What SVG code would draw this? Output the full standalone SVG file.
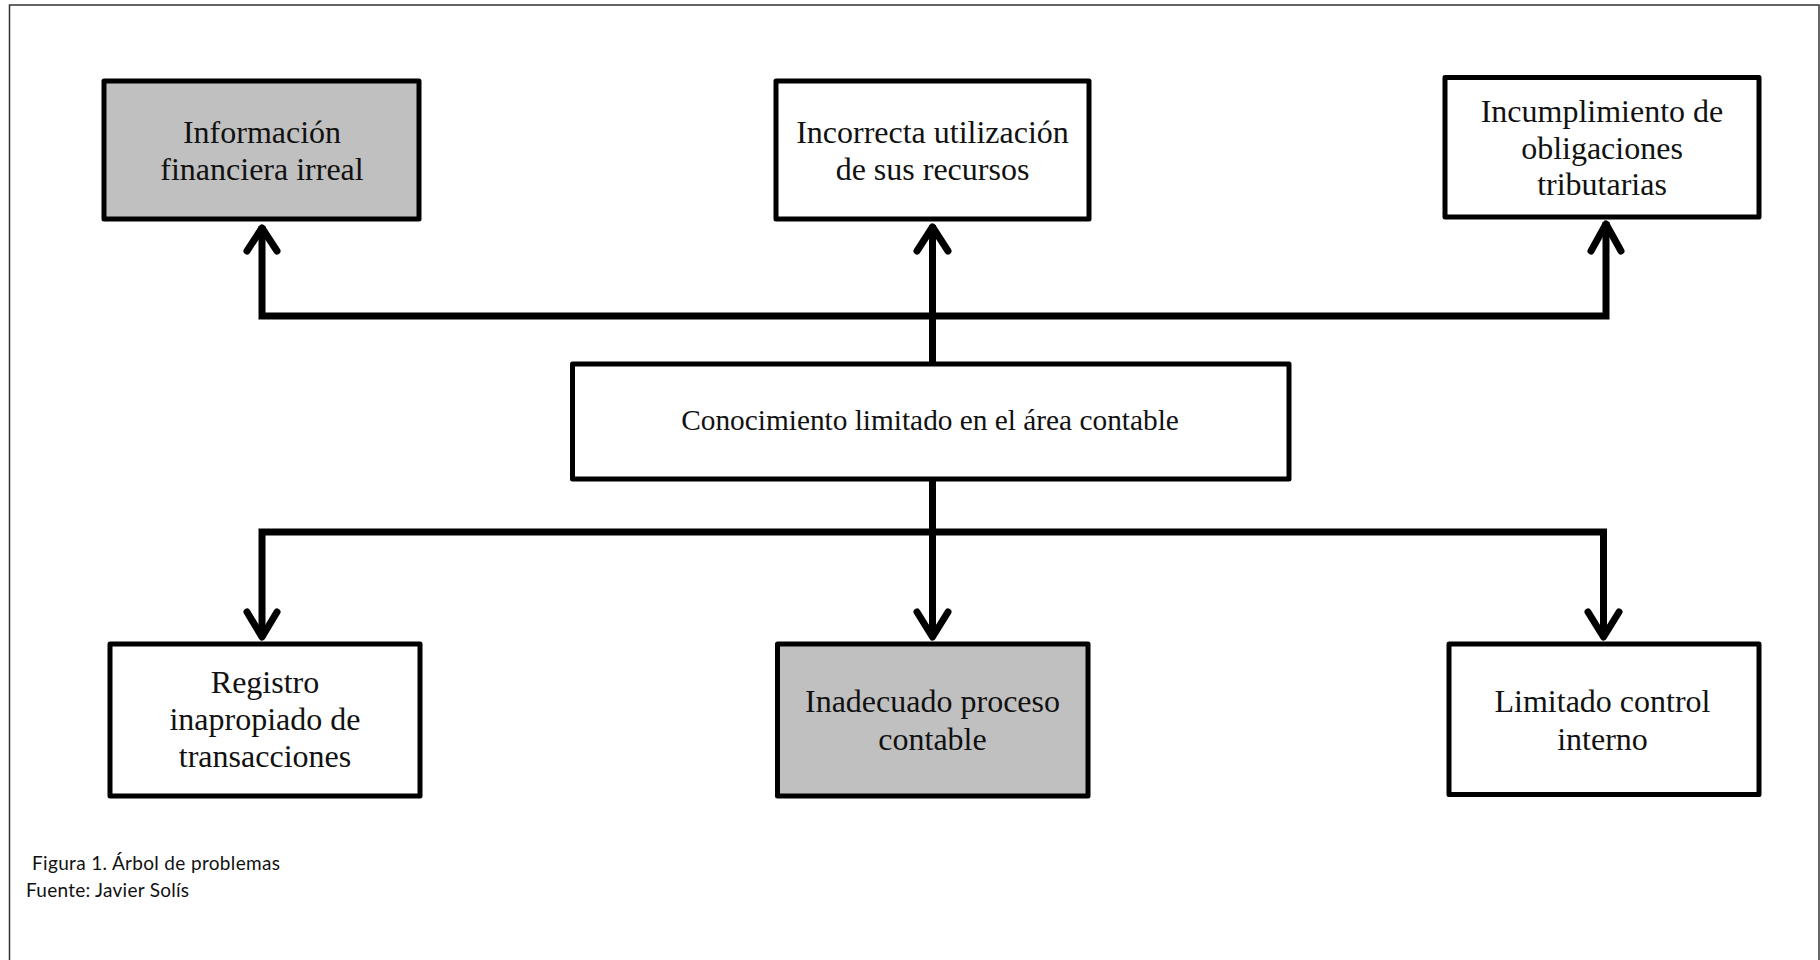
<svg xmlns="http://www.w3.org/2000/svg" width="1820" height="960" viewBox="0 0 1820 960">
<style>
.box{stroke:#000;stroke-width:5;stroke-linejoin:round}
.w{fill:#fff}
.g{fill:#c0c0c0}
.t{font-family:"Liberation Serif","Times New Roman",serif;font-size:32px;fill:#111;text-anchor:middle}
.tc{font-family:"Liberation Serif","Times New Roman",serif;font-size:29.33px;fill:#111;text-anchor:middle}
.line{fill:none;stroke:#000;stroke-width:7;stroke-linejoin:miter;stroke-linecap:butt}
.head{fill:none;stroke:#000;stroke-width:7;stroke-linejoin:round;stroke-linecap:round}
.cap{font-family:Lato,"Open Sans",sans-serif;font-size:19px;fill:#111}
</style>
<rect x="0" y="0" width="1820" height="960" fill="#fff"/>
<path d="M9.5,960 V5 H1819 V960" fill="none" stroke="#333" stroke-width="1.5"/>
<g id="connectors">
<path class="line" d="M262,226 V316 H1606 V222"/>
<path class="line" d="M932.5,364 V225"/>
<path class="head" d="M247,251 L262,228 L277,251"/>
<path class="head" d="M917,251 L932.5,227 L948,251"/>
<path class="head" d="M1591,251 L1606,224 L1621,251"/>
<path class="line" d="M262,638 V532 H1603.5 V638"/>
<path class="line" d="M932.5,479 V638"/>
<path class="head" d="M247,612 L262,637 L277,612"/>
<path class="head" d="M917,612 L932.5,637 L948,612"/>
<path class="head" d="M1588,612 L1603.5,637 L1619,612"/>
</g>
<g id="n1">
<rect class="box g" x="104" y="81" width="315" height="138"/>
<text class="t" x="262" y="143">Información</text>
<text class="t" x="262" y="180">financiera irreal</text>
</g>
<g id="n2">
<rect class="box w" x="776" y="81" width="313" height="138"/>
<text class="t" x="932.5" y="143">Incorrecta utilización</text>
<text class="t" x="932.5" y="179.5">de sus recursos</text>
</g>
<g id="n3">
<rect class="box w" x="1445" y="77.5" width="314" height="139.5"/>
<text class="t" x="1602" y="121.5">Incumplimiento de</text>
<text class="t" x="1602" y="158.5">obligaciones</text>
<text class="t" x="1602" y="195">tributarias</text>
</g>
<g id="center">
<rect class="box w" x="572.5" y="364" width="716.5" height="115"/>
<text class="tc" x="930" y="430">Conocimiento limitado en el área contable</text>
</g>
<g id="n4">
<rect class="box w" x="110" y="644" width="310" height="152"/>
<text class="t" x="265" y="693">Registro</text>
<text class="t" x="265" y="730">inapropiado de</text>
<text class="t" x="265" y="767">transacciones</text>
</g>
<g id="n5">
<rect class="box g" x="777.5" y="644" width="310.5" height="152"/>
<text class="t" x="932.5" y="712">Inadecuado proceso</text>
<text class="t" x="932.5" y="750">contable</text>
</g>
<g id="n6">
<rect class="box w" x="1449" y="644" width="310" height="150.5"/>
<text class="t" x="1602.5" y="712">Limitado control</text>
<text class="t" x="1602.5" y="750">interno</text>
</g>
<g id="caption">
<text class="cap" x="32" y="870" textLength="248" lengthAdjust="spacing">Figura 1. Árbol de problemas</text>
<text class="cap" x="26" y="897" textLength="163" lengthAdjust="spacing">Fuente: Javier Solís</text>
</g>
</svg>
